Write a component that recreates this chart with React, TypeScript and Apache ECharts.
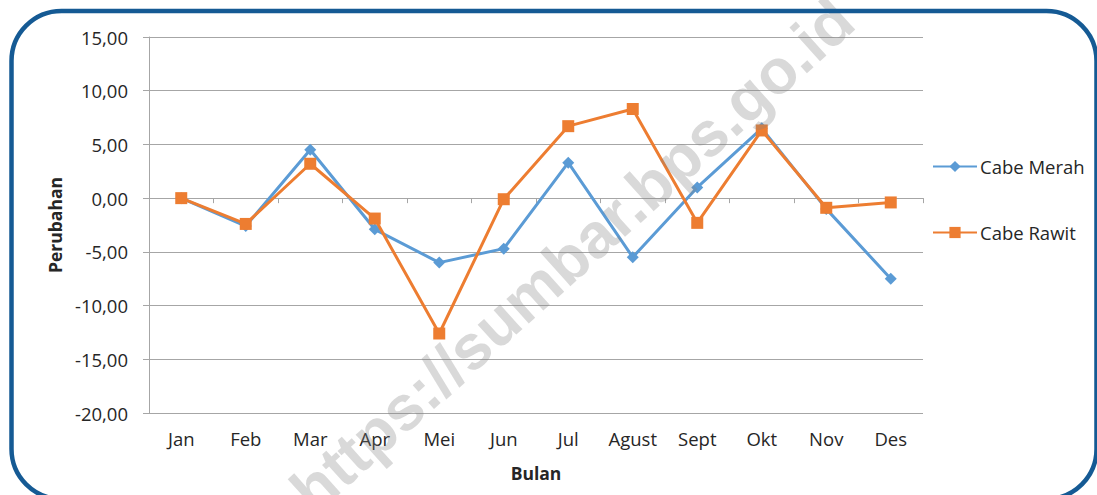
import React, { useEffect, useRef } from "react";
import * as echarts from "echarts";

const categories = ["Jan", "Feb", "Mar", "Apr", "Mei", "Jun", "Jul", "Agust", "Sept", "Okt", "Nov", "Des"];
const cabeMerah = [0, -2.6, 4.5, -2.9, -6.0, -4.7, 3.3, -5.5, 1.0, 6.5, -1.0, -7.5];
const cabeRawit = [0, -2.4, 3.2, -1.9, -12.6, -0.1, 6.7, 8.3, -2.3, 6.3, -0.9, -0.4];
const seriesNames = ["Cabe Merah", "Cabe Rawit"];
const yMin = -20;
const yMax = 15;
const yStep = 5;

const FONT = "'Open Sans', 'Noto Sans', sans-serif";
const TEXT = "#262626";
const GRID = "#a6a6a6";

export default function App() {
  const ref = useRef<HTMLDivElement>(null);
  useEffect(() => {
    if (!ref.current) return;
    const chart = echarts.init(ref.current, null, { renderer: "svg" });
    const fmt = (v: number) => v.toFixed(2).replace(".", ",");
    chart.setOption({
      animation: false,
      backgroundColor: "#ffffff",
      textStyle: { fontFamily: FONT },
      grid: { left: 149, right: 174, top: 37, bottom: 82, containLabel: false },
      legend: {
        orient: "vertical",
        left: 932,
        top: 157,
        padding: 0,
        itemGap: 47,
        itemWidth: 44,
        itemHeight: 14,
        textStyle: { fontFamily: FONT, fontSize: 18.5, color: TEXT, padding: [0, 0, 0, -2] },
        data: seriesNames,
      },
      xAxis: [
        {
          type: "category",
          data: categories,
          position: "bottom",
          boundaryGap: true,
          axisLine: { show: false, onZero: false },
          axisTick: { show: false },
          axisLabel: { margin: 16, fontSize: 18.5, color: TEXT, fontFamily: FONT },
          name: "Bulan",
          nameLocation: "middle",
          nameGap: 51,
          nameTextStyle: { fontSize: 17.5, fontWeight: "bold", color: TEXT, fontFamily: FONT },
          splitLine: { show: false },
        },
        {
          type: "category",
          data: categories,
          position: "bottom",
          boundaryGap: true,
          axisLine: { show: true, onZero: true, onZeroAxisIndex: 0, lineStyle: { color: GRID, width: 1 } },
          axisTick: { show: true, length: 5, alignWithLabel: false, lineStyle: { color: GRID } },
          axisLabel: { show: false },
          splitLine: { show: false },
        },
      ],
      yAxis: {
        type: "value",
        min: yMin,
        max: yMax,
        interval: yStep,
        axisLine: { show: true, lineStyle: { color: GRID, width: 1 } },
        axisTick: { show: true, length: 6, lineStyle: { color: GRID } },
        axisLabel: { margin: 21, fontSize: 18.5, color: TEXT, fontFamily: FONT, formatter: fmt },
        splitLine: { show: true, lineStyle: { color: GRID, width: 1 } },
        name: "Perubahan",
        nameLocation: "middle",
        nameGap: 81,
        nameTextStyle: { fontSize: 17.5, fontWeight: "bold", color: TEXT, fontFamily: FONT },
      },
      series: [
        {
          name: seriesNames[0],
          type: "line",
          data: cabeMerah,
          xAxisIndex: 0,
          symbol: "diamond",
          symbolSize: 12,
          color: "#5B9BD5",
          lineStyle: { width: 3, color: "#5B9BD5" },
          itemStyle: { color: "#5B9BD5" },
          z: 3,
        },
        {
          name: seriesNames[1],
          type: "line",
          data: cabeRawit,
          xAxisIndex: 0,
          symbol: "rect",
          symbolSize: 12,
          color: "#ED7D31",
          lineStyle: { width: 3, color: "#ED7D31" },
          itemStyle: { color: "#ED7D31" },
          z: 4,
        },
      ],
      graphic: [
        {
          type: "text",
          x: 572,
          y: 255,
          rotation: (42 * Math.PI) / 180,
          z: 100,
          silent: true,
          style: {
            text: "https://sumbar.bps.go.id",
            font: "bold 63px 'Liberation Sans', Arial, sans-serif",
            fill: "rgba(128,128,128,0.3)",
            textAlign: "center",
            textVerticalAlign: "middle",
          },
        },
        {
          type: "rect",
          z: 101,
          silent: true,
          shape: { x: 11.5, y: 11, width: 1085, height: 488, r: 50 },
          style: { fill: "none", stroke: "#155a94", lineWidth: 4.5 },
        },
      ],
    });
    return () => chart.dispose();
  }, []);
  return (
    <div
      ref={ref}
      style={{ position: "fixed", left: 0, top: 0, width: 1097, height: 495 }}
    />
  );
}
